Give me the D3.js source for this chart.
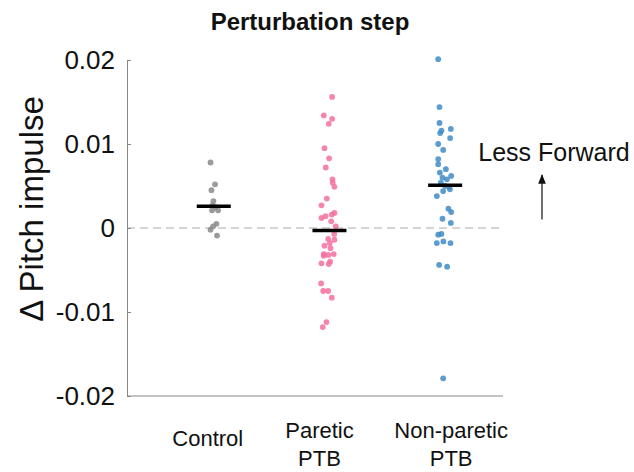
<!DOCTYPE html>
<html>
<head>
<meta charset="utf-8">
<script src="https://cdn.jsdelivr.net/npm/d3@7"></script>
<style>
  body { margin: 0; background: #fff; }
  text { font-family: "Liberation Sans", Arial, sans-serif; fill: #111; }
</style>
</head>
<body>
<svg id="chart" width="634" height="472"></svg>
<script>
// groups along the x axis
const groups = ["Control", "Paretic\nPTB", "Non-paretic\nPTB"]
const colors = ["#8a8a8a", "#f5709f", "#3f8bc6"]

// Δ pitch impulse per subject
const control = [0.0078, 0.0052, 0.0045, 0.0032, 0.0027, 0.0025, 0.0021, 0.0021, 0.0005, 0.0002, -0.0002, -0.0009]
const control_jit = [-0.028, 0.011, -0.020, -0.003, -0.011, 0.015, 0.037, -0.015, 0.023, -0.006, -0.028, 0.028]

const paretic = [0.0156, 0.0134, 0.0130, 0.0124, 0.0095, 0.0083, 0.0072, 0.0058, 0.0054, 0.0049,
  0.0035, 0.0027, 0.0018, 0.0016, 0.0014, 0.0012, 0.0008, 0.0002, -0.0007, -0.0013,
  -0.0014, -0.0018, -0.0021, -0.0024, -0.0031, -0.0032, -0.0031, -0.0033, -0.0040, -0.0042,
  -0.0043, -0.0066, -0.0075, -0.0075, -0.0083, -0.0112, -0.0118]
const paretic_jit = [0.023, -0.049, 0.023, -0.006, -0.043, -0.003, -0.032, 0.026, 0.028, 0.043,
  -0.023, -0.069, 0.043, 0.020, -0.034, -0.069, 0.015, 0.054, 0.041, -0.011,
  0.043, 0.003, -0.043, 0.009, -0.049, -0.009, 0.037, -0.049, 0.006, -0.069,
  -0.006, -0.072, -0.054, -0.011, 0.020, -0.026, -0.058]

const nonparetic = [0.0201, 0.0144, 0.0125, 0.0116, 0.0113, 0.0118, 0.0107, 0.0100, 0.0093, 0.0082,
  0.0076, 0.0070, 0.0066, 0.0062, 0.0060, 0.0058, 0.0054, 0.0050, 0.0049, 0.0046,
  0.0044, 0.0038, 0.0023, 0.0019, 0.0011, 0.0006, -0.0007, -0.0008, -0.0016, -0.0018,
  -0.0018, -0.0044, -0.0046, -0.0179]
const nonparetic_jit = [-0.060, -0.049, -0.049, -0.032, -0.043, 0.049, 0.043, -0.060, -0.017, -0.060,
  -0.060, 0.006, -0.046, 0.052, -0.023, 0.015, -0.037, 0.000, 0.034, 0.041,
  -0.017, -0.072, 0.028, 0.052, -0.023, 0.049, -0.032, -0.060, -0.015, -0.072,
  0.046, -0.052, 0.017, -0.017]

// group summary bars
const means = [0.0026, -0.0003, 0.0051]
const y_ticks = [-0.02, -0.01, 0, 0.01, 0.02]

const svg = d3.select("#chart")

// scales
const x = d3.scaleLinear().domain([0.25, 3.5]).range([127, 503])
const y = d3.scaleLinear().domain([-0.02, 0.02]).range([396, 60])

// zero reference line
svg.append("line")
  .attr("x1", x(0.25)).attr("x2", x(3.5))
  .attr("y1", y(0)).attr("y2", y(0))
  .attr("stroke", "#c8c8c8")
  .attr("stroke-width", 1.5)
  .attr("stroke-dasharray", "8,5")

// axes
const y_axis = svg.append("g")
  .attr("transform", `translate(${x(0.25)},0)`)
  .call(d3.axisLeft(y).tickValues(y_ticks)
    .tickSizeInner(-4).tickSizeOuter(0).tickPadding(12)
    .tickFormat(d => d === 0 ? "0" : d.toFixed(2)))
y_axis.selectAll("path, line").attr("stroke", "#888")
y_axis.selectAll("text")
  .style("font-size", "26px")
  .style("font-family", "'Liberation Sans', Arial, sans-serif")
  .attr("fill", "#111")

svg.append("line")
  .attr("x1", x(0.25)).attr("x2", x(3.5))
  .attr("y1", y(-0.02)).attr("y2", y(-0.02))
  .attr("stroke", "#888")

// points
const series = [
  { vals: control, jit: control_jit },
  { vals: paretic, jit: paretic_jit },
  { vals: nonparetic, jit: nonparetic_jit }
]
series.forEach((s, i) => {
  svg.append("g")
    .selectAll("circle")
    .data(s.vals).enter()
    .append("circle")
    .attr("cx", (d, j) => x(i + 1 + s.jit[j]))
    .attr("cy", d => y(d))
    .attr("r", 2.9)
    .attr("fill", colors[i])
    .attr("fill-opacity", 0.85)
})

// mean bars
svg.append("g")
  .selectAll("line")
  .data(means).enter()
  .append("line")
  .attr("x1", (d, i) => x(i + 1 - 0.147))
  .attr("x2", (d, i) => x(i + 1 + 0.147))
  .attr("y1", d => y(d))
  .attr("y2", d => y(d))
  .attr("stroke", "#000")
  .attr("stroke-width", 3.5)

// group labels (nudged like the original)
const label_dx = [-6, -10, 6]
svg.append("g")
  .selectAll("text")
  .data(groups).enter()
  .append("text")
  .attr("x", (d, i) => x(i + 1) + label_dx[i])
  .attr("y", d => d.includes("\n") ? 438 : 446)
  .attr("text-anchor", "middle")
  .style("font-size", "22px")
  .selectAll("tspan")
  .data(d => d.split("\n")).enter()
  .append("tspan")
  .attr("x", function () { return this.parentNode.getAttribute("x") })
  .attr("dy", (d, i) => i === 0 ? 0 : 28)
  .text(d => d)

// y label
svg.append("text")
  .attr("transform", `translate(43,209) rotate(-90)`)
  .attr("text-anchor", "middle")
  .style("font-size", "33px")
  .text("\u0394 Pitch impulse")

// title
svg.append("text")
  .attr("x", 310).attr("y", 30)
  .attr("text-anchor", "middle")
  .style("font-size", "24px")
  .style("font-weight", "bold")
  .text("Perturbation step")

// annotation
svg.append("text")
  .attr("x", 554).attr("y", 161)
  .attr("text-anchor", "middle")
  .style("font-size", "25px")
  .text("Less Forward")

svg.append("defs").append("marker")
  .attr("id", "head")
  .attr("viewBox", "0 0 10 10")
  .attr("refX", 9).attr("refY", 5)
  .attr("markerWidth", 8).attr("markerHeight", 8)
  .attr("orient", "auto")
  .append("path")
  .attr("d", "M0,1 L10,5 L0,9 Z")
  .attr("fill", "#111")

svg.append("line")
  .attr("x1", 542).attr("x2", 542)
  .attr("y1", y(0.001)).attr("y2", y(0.0063))
  .attr("stroke", "#111")
  .attr("stroke-width", 1.2)
  .attr("marker-end", "url(#head)")
</script>
</body>
</html>
